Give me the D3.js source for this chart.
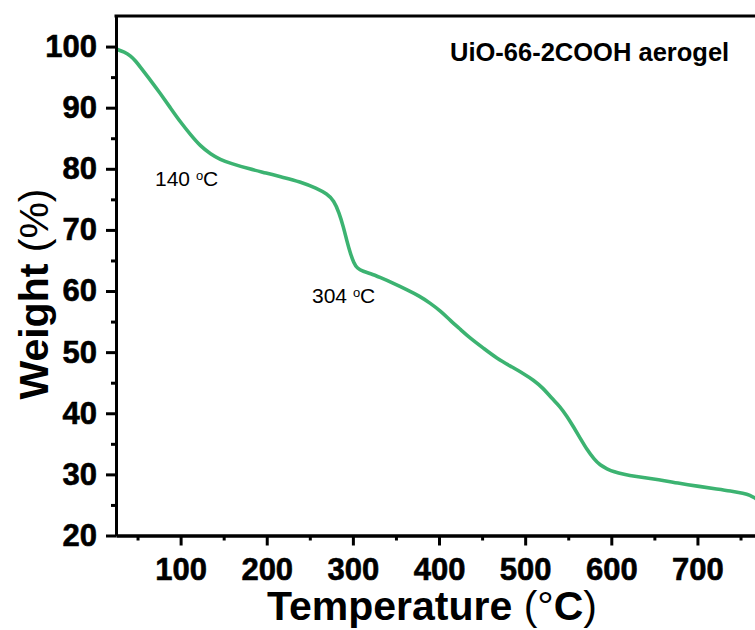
<!DOCTYPE html>
<html>
<head>
<meta charset="utf-8">
<script src="https://cdn.jsdelivr.net/npm/d3@7"></script>
<style>
  body { margin: 0; background: #fff; }
  svg { display: block; font-family: "Liberation Sans", Arial, sans-serif; }
</style>
</head>
<body>
<div class="chart"></div>
<script>
var svgWidth = 755;
var svgHeight = 630;

// TGA curve
var temps = [25, 35, 42, 48, 53, 65, 76, 88, 100, 112, 123, 135, 146, 158, 179, 200, 216, 239, 258, 270,
    278, 284, 289, 293, 297, 301, 305, 312, 320, 332, 345, 363, 377, 390, 402, 413, 425, 436, 452, 467,
    483, 498, 510, 521, 531, 540, 549, 556, 564, 572, 580, 587, 595, 603, 615, 626, 657, 676, 703, 723,
    738, 754, 761, 767, 775];
var weights = [99.6, 99.1, 98.5, 97.6, 96.7, 94.5, 92.4, 90.0, 87.6, 85.5, 83.7, 82.4, 81.5, 80.9, 80.0, 79.3, 78.7, 77.9, 76.8, 75.9,
    74.8, 72.8, 70.5, 68.2, 66.2, 64.6, 63.7, 63.2, 62.9, 62.2, 61.4, 60.2, 59.2, 58.0, 56.7, 55.2, 53.7, 52.3, 50.6, 49.0,
    47.7, 46.5, 45.4, 44.1, 42.4, 41.2, 39.4, 37.8, 35.9, 34.0, 32.5, 31.5, 30.9, 30.4, 30.0, 29.7, 29.1, 28.6, 28.0, 27.6,
    27.3, 26.9, 26.6, 26.1, 25.5];

var xMajor = [100, 200, 300, 400, 500, 600, 700];
var xMinor = [50, 150, 250, 350, 450, 550, 650, 750];
var yMajor = [20, 30, 40, 50, 60, 70, 80, 90, 100];
var yMinor = [25, 35, 45, 55, 65, 75, 85, 95];

var annotations = ["140 ", "304 "];
var sampleName = "UiO-66-2COOH aerogel";

var lineColor = "#3cb371";

var plotLeft = 116, plotTop = 16, plotBottom = 535.5;

var xScale = d3.scaleLinear().domain([25, 800]).range([plotLeft, plotLeft + 775 * 0.8614]);
var yScale = d3.scaleLinear().domain([20, 105]).range([plotBottom, plotTop]);

var $svg = d3.select(".chart").append("svg")
    .attr("width", svgWidth)
    .attr("height", svgHeight);

// curve
var line = d3.line()
    .x(d => xScale(d[0]))
    .y(d => yScale(d[1]))
    .curve(d3.curveBasis);

$svg.append("path")
    .datum(temps.map((t, i) => [t, weights[i]]))
    .attr("fill", "none")
    .attr("stroke", lineColor)
    .attr("stroke-width", 3.6)
    .attr("stroke-linejoin", "round")
    .attr("d", line);

// axes
var xAxis = d3.axisBottom(xScale).tickValues(xMajor).tickSize(10).tickPadding(12).tickSizeOuter(0);
var xAxisMinor = d3.axisBottom(xScale).tickValues(xMinor).tickSize(5).tickFormat("").tickSizeOuter(0);
var yAxis = d3.axisLeft(yScale).tickValues(yMajor).tickSize(10).tickPadding(9).tickSizeOuter(0);
var yAxisMinor = d3.axisLeft(yScale).tickValues(yMinor).tickSize(5).tickFormat("").tickSizeOuter(0);

function styleAxis(g) {
    g.selectAll("path, line").attr("stroke", "#000").attr("stroke-width", 3);
    g.selectAll("text")
        .attr("fill", "#000")
        .attr("stroke", "#000")
        .attr("stroke-width", 0.6)
        .style("font-size", "31px")
        .style("font-weight", "bold")
        .style("font-family", "'Liberation Sans', Arial, sans-serif");
}

$svg.append("g").attr("transform", `translate(0,${plotBottom})`).call(xAxis).call(styleAxis);
$svg.append("g").attr("transform", `translate(0,${plotBottom})`).call(xAxisMinor).call(styleAxis);
$svg.append("g").attr("transform", `translate(${plotLeft},0)`).call(yAxis).call(styleAxis);
$svg.append("g").attr("transform", `translate(${plotLeft},0)`).call(yAxisMinor).call(styleAxis);

// top frame
$svg.append("line")
    .attr("x1", plotLeft - 1.5).attr("x2", svgWidth + 10)
    .attr("y1", plotTop).attr("y2", plotTop)
    .attr("stroke", "#000").attr("stroke-width", 3);

// axis labels
var xLabel = $svg.append("text")
    .attr("x", 432).attr("y", 620)
    .attr("text-anchor", "middle")
    .style("font-size", "41px")
    .style("font-weight", "bold");
xLabel.append("tspan").text("Temperature ");
xLabel.append("tspan").style("font-weight", "normal").text("(°");
xLabel.append("tspan").text("C");
xLabel.append("tspan").style("font-weight", "normal").text(")");

var yLabel = $svg.append("text")
    .attr("transform", "translate(48,294) rotate(-90)")
    .attr("text-anchor", "middle")
    .style("font-size", "41px")
    .style("font-weight", "bold");
yLabel.append("tspan").text("Weight ");
yLabel.append("tspan").style("font-weight", "normal").text("(%)");

// sample name
$svg.append("text")
    .attr("x", 450).attr("y", 61)
    .style("font-size", "25.5px")
    .style("font-weight", "bold")
    .text(sampleName);

// temperature annotations
var annPos = [[155, 186], [312, 303]];
annotations.forEach((a, i) => {
    var txt = $svg.append("text")
        .attr("x", annPos[i][0]).attr("y", annPos[i][1])
        .style("font-size", "21px");
    txt.append("tspan").text(a);
    txt.append("tspan").attr("dy", -6).style("font-size", "13px").text("o");
    txt.append("tspan").attr("dy", 6).text("C");
});
</script>
</body>
</html>
